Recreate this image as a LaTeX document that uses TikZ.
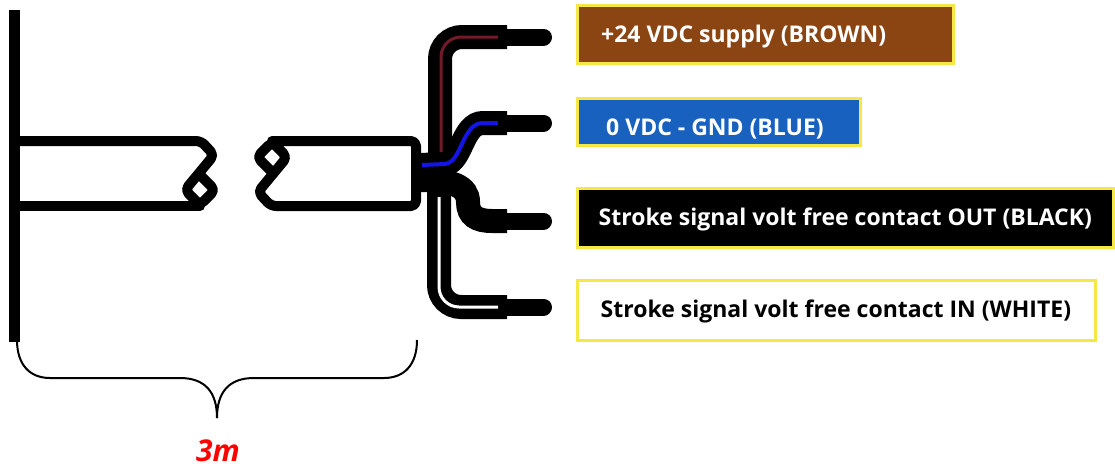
\documentclass[tikz,border=0pt]{standalone}
\usepackage{fontspec}
\setmainfont{Open Sans}
\definecolor{brownfill}{RGB}{139,69,19}
\definecolor{bluefill}{RGB}{24,97,191}
\definecolor{yellowb}{RGB}{245,232,70}
\definecolor{redwire}{RGB}{115,25,40}
\definecolor{bluewire}{RGB}{20,20,230}
\begin{document}
\begin{tikzpicture}[x=1pt,y=-1pt,
  cable/.style={line width=10pt, line join=round, line cap=round},
  wireout/.style={line width=24pt, black},
  wirein/.style={line width=3pt},
  ferrule/.style={line width=17pt, line cap=round},
  box/.style={draw=yellowb, line width=3pt, outer sep=0pt, inner sep=0pt, anchor=north west},
  lbl/.style={font=\fontsize{23}{28}\selectfont\bfseries, anchor=base west, inner sep=0pt},
]
\useasboundingbox (0,0) rectangle (1115,467);
% wall
\coordinate (wt) at (14.5,10);
\coordinate (wb) at (14.5,342);
\draw[line width=11pt] (wt) -- (wb);
% cable, left piece
\draw[cable, rounded corners=5] (20,141) -- (201,141) -- (214,155) -- (185,190) -- (200,205) -- (215,190) -- (200,175);
\draw[cable] (20,206) -- (200,206);
% cable, right piece
\draw[cable, rounded corners=5] (272,172) -- (257,157) -- (272,142) -- (287,157) -- (258,192) -- (271,206) -- (416,206) -- (416,141) -- (272,141);
% wires, black sheaths
\draw[wireout, rounded corners=22] (440,168) |- (507,37);
\draw[wireout, rounded corners=22] (439,180) |- (507,307);
\draw[wireout] (420,180) .. controls (452,180) and (468,186) .. (468,202) .. controls (468,216) and (477,221) .. (492,221) -- (507,221);
\draw[wireout] (420,165) -- (445,164) .. controls (462,162) and (462,123) .. (483,123) -- (507,123);
% inner colour lines
\draw[wirein, redwire, rounded corners=20] (441,152) |- (498,37);
\draw[wirein, white, rounded corners=20] (439,197) |- (498,307);
\draw[line width=4pt, bluewire] (422,165) -- (445,164) .. controls (462,162) and (462,123) .. (483,123) -- (498,123);
% ferrules
\draw[ferrule] (507,37) -- (543.5,37);
\draw[ferrule] (507,123) -- (543.5,123);
\draw[ferrule] (507,221) -- (543.5,221);
\draw[ferrule] (507,307) -- (543.5,307);
% label boxes
\node[box, fill=brownfill, minimum width=376, minimum height=58] (bbrown) at (577.5,5.5) {};
\node[box, fill=bluefill, minimum width=283, minimum height=47] (bblue) at (577.5,98.5) {};
\node[box, fill=black, minimum width=536, minimum height=59] (bblack) at (577.5,188.5) {};
\node[box, fill=white, minimum width=518, minimum height=60] (bwhite) at (577.5,280.5) {};
\node[lbl, text=white] (tbrown) at (601,42) {+24 VDC supply (BROWN)};
\node[lbl, text=white] (tblue) at (606,135) {0 VDC - GND (BLUE)};
\node[lbl, text=white] (tblack) at (598.5,225) {Stroke signal volt free contact OUT (BLACK)};
\node[lbl, text=black] (twhite) at (600.5,317) {Stroke signal volt free contact IN (WHITE)};
% brace
\draw[line width=2pt] (17,340) .. controls (17,365) and (30,378) .. (50,378) -- (180,378) .. controls (205,378) and (217,392) .. (217,418);
\draw[line width=2pt] (417,340) .. controls (417,365) and (404,378) .. (384,378) -- (254,378) .. controls (229,378) and (217,392) .. (217,418);
\node[font=\fontsize{30}{36}\selectfont\bfseries\itshape, text=red, anchor=base, inner sep=0pt] (len) at (218,461) {3m};
\end{tikzpicture}
\end{document}
